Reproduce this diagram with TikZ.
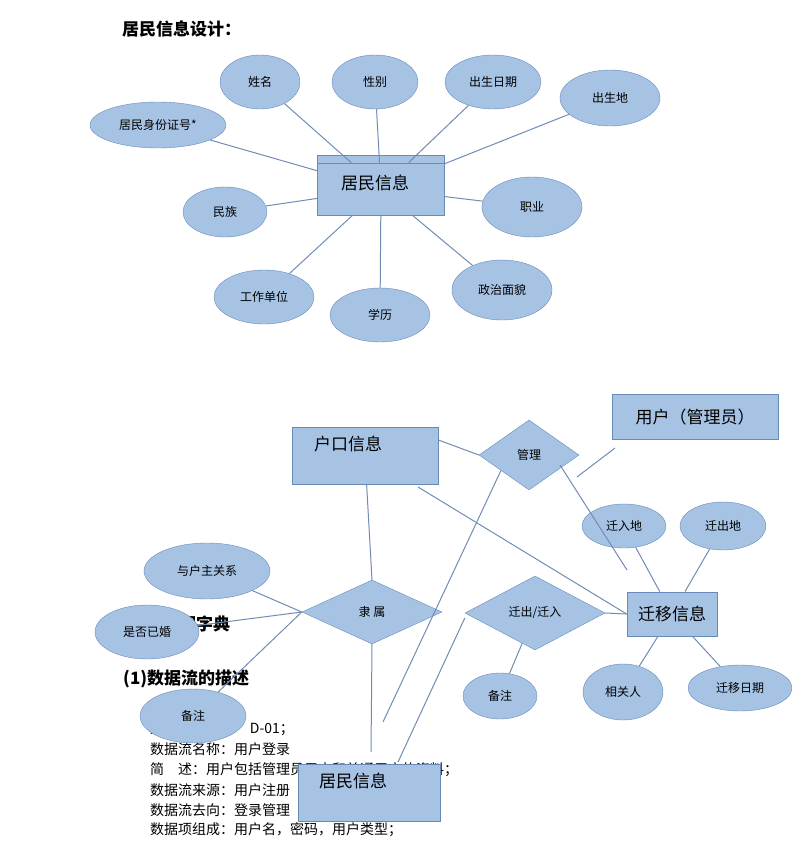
\documentclass[tikz,border=0pt]{standalone}
\usepackage{fontspec}
\setmainfont{Liberation Serif}
\newfontfamily\cjk{Noto Sans CJK SC}
\usetikzlibrary{shapes.geometric,positioning}
\definecolor{boxfill}{RGB}{166,195,228}
\definecolor{boxedge}{RGB}{105,138,185}
\definecolor{linkcol}{RGB}{112,140,180}

\begin{document}
\begin{tikzpicture}
          [ x=1pt, y=-1pt,
            attr/.style={
              ellipse,
              draw=boxedge,
              fill=boxfill,
              inner sep=0pt,
              font=\cjk\fontsize{12}{14}\selectfont},
            entity/.style={
              rectangle,
              draw=boxedge,
              thick,
              fill=boxfill,
              inner sep=0pt,
              font=\cjk\fontsize{17}{20}\selectfont},
            rel/.style={
              diamond,
              draw=boxedge,
              fill=boxfill,
              inner sep=0pt,
              aspect=2,
              font=\cjk\fontsize{12}{14}\selectfont},
            link/.style={
              draw=linkcol,
              line width=1pt},
            doc/.style={
              anchor=base west,
              inner sep=0pt,
              font=\cjk\fontsize{14}{16}\selectfont},
          ]
          \useasboundingbox (0,0) rectangle (800,841);

          % text of the page behind the diagram
          \node (title) [doc, font=\cjk\bfseries\fontsize{17}{20}\selectfont] at (122,35) {居民信息设计：};
          \node (dict) [doc, font=\cjk\bfseries\fontsize{17}{20}\selectfont] at (162,630) {数据字典};
          \node (flow) [doc, font=\cjk\bfseries\fontsize{17}{20}\selectfont] at (123,684) {(1)数据流的描述};
          \node (l1) [doc] at (150,733) {数据流编号：\ \ \ \ \ D-01；};
          \node (l2) [doc] at (150,754) {数据流名称：用户登录};
          \node (l3) [doc] at (150,774) {简\quad 述：用户包括管理员用户和普通用户的资料；};
          \node (l4) [doc] at (150,795) {数据流来源：用户注册};
          \node (l5) [doc] at (150,815) {数据流去向：登录管理};
          \node (l6) [doc] at (150,834) {数据项组成：用户名，密码，用户类型；};

          % resident entity
          \node (resback) [entity, minimum width=127pt, minimum height=20pt] at (381,165) {};
          \node (resident) [entity, minimum width=127pt, minimum height=52pt] at (381,189) {};
          \node (restext) [inner sep=0pt, font=\cjk\fontsize{17}{20}\selectfont] at (375,183) {居民信息};

          \node (name) [attr, minimum width=80pt, minimum height=54pt] at (260,82) {姓名};
          \node (sex) [attr, minimum width=86pt, minimum height=54pt] at (375,82) {性别};
          \node (birth) [attr, minimum width=96pt, minimum height=54pt] at (493,82) {出生日期};
          \node (place) [attr, minimum width=100pt, minimum height=56pt] at (610,98) {出生地};
          \node (idno) [attr, minimum width=136pt, minimum height=46pt] at (158,125) {居民身份证号*};
          \node (nation) [attr, minimum width=84pt, minimum height=50pt] at (225,212) {民族};
          \node (job) [attr, minimum width=100pt, minimum height=60pt] at (532,207) {职业};
          \node (work) [attr, minimum width=100pt, minimum height=54pt] at (264,297) {工作单位};
          \node (edu) [attr, minimum width=100pt, minimum height=54pt] at (380,315) {学历};
          \node (party) [attr, minimum width=100pt, minimum height=60pt] at (502,290) {政治面貌};

          \foreach \a in {name,sex,birth,place,idno,nation,job,work,edu,party}
            \draw[link] (\a) -- (resident);

          % household part
          \node (household) [entity, minimum width=146pt, minimum height=57pt] at (365,456) {};
          \node (hhtext) [inner sep=0pt, font=\cjk\fontsize{17}{20}\selectfont] at (348,444) {户口信息};
          \node (user) [entity, minimum width=166pt, minimum height=45pt] at (695,417) {用户（管理员）};
          \node (manage) [rel, minimum width=100pt, minimum height=70pt] at (529,455) {管理};
          \node (move) [entity, minimum width=90pt, minimum height=44pt] at (672,614) {迁移信息};
          \node (belong) [rel, minimum width=140pt, minimum height=64pt] at (372,612) {隶\ 属};
          \node (inout) [rel, minimum width=140pt, minimum height=74pt] at (535,613) {迁出/迁入};

          \node (inplace) [attr, minimum width=84pt, minimum height=44pt] at (624,526) {迁入地};
          \node (outplace) [attr, minimum width=86pt, minimum height=48pt] at (723,526) {迁出地};
          \node (host) [attr, minimum width=126pt, minimum height=56pt] at (207,571) {与户主关系};
          \node (married) [attr, minimum width=104pt, minimum height=54pt] at (147,632) {是否已婚};
          \node (note1) [attr, minimum width=106pt, minimum height=54pt] at (193,716) {备注};
          \node (note2) [attr, minimum width=74pt, minimum height=46pt] at (500,696) {备注};
          \node (related) [attr, minimum width=80pt, minimum height=56pt] at (623,692) {相关人};
          \node (movedate) [attr, minimum width=104pt, minimum height=46pt] at (740,688) {迁移日期};

          \node (resident2) [entity, minimum width=142pt, minimum height=57pt] at (369,793) {};
          \node (res2text) [inner sep=0pt, font=\cjk\fontsize{17}{20}\selectfont] at (353,781) {居民信息};

          \coordinate (userend) at (577,477);
          \coordinate (userstart) at (615,448);
          \coordinate (mgend) at (383,722);
          \coordinate (beend) at (371,752);
          \coordinate (ioend) at (398,762);
          \coordinate (hhout) at (418,487);
          \coordinate (mgout) at (560,465);
          \coordinate (mvin) at (627,570);

          \draw[link] (household) -- (belong.north);
          \draw[link] (household.east |- 0,440) -- (manage.west);
          \draw[link] (hhout) -- (move.west);
          \draw[link] (userstart) -- (userend);
          \draw[link] (mgout) -- (mvin);
          \draw[link] (manage.south west) ++(-3,-2) coordinate (mgstart) -- (mgend);
          \draw[link] (belong.south) -- (beend);
          \draw[link] (inout.west) ++(0,5) coordinate (iostart) -- (ioend);
          \draw[link] (inout.east) -- (move.west);
          \draw[link] (inout) -- (note2);
          \draw[link] (belong.west) -- (host);
          \draw[link] (belong.west) -- (married);
          \draw[link] (belong.west) -- (note1);
          \draw[link] (inplace) -- (move);
          \draw[link] (outplace) -- (move);
          \draw[link] (related) -- (move);
          \draw[link] (movedate) -- (move);
        \end{tikzpicture}
\end{document}
